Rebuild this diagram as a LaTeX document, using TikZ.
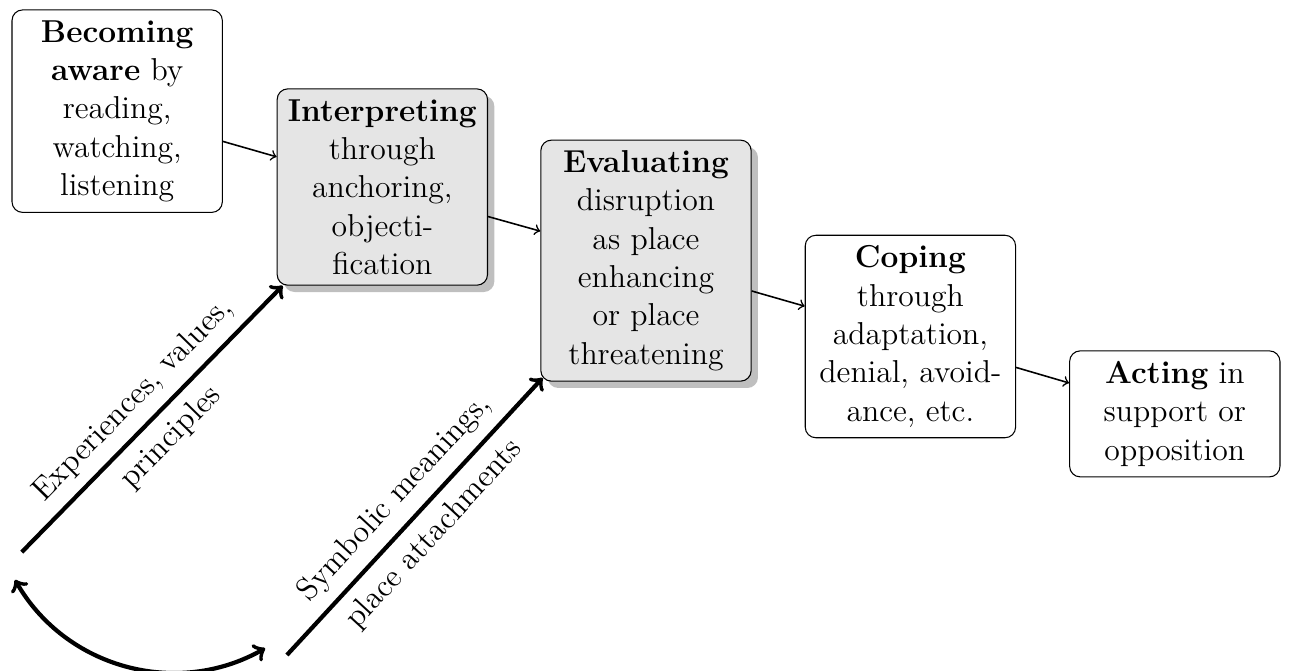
\documentclass[12pt,tikz,border=0pt]{standalone}
\usetikzlibrary{shadows}
\begin{document}
\begin{tikzpicture}[
	    stage/.style={draw,rounded corners,align=center,minimum width=2.8cm,fill=white},
	    keystage/.style={stage,fill=black!10,drop shadow},
	    influence/.style={->,ultra thick}]
	    \useasboundingbox (0,0) rectangle (17.16,-8.93);
	    \node[stage] (aware) at (1.56,-1.48) {\textbf{Becoming}\\\textbf{aware} by\\reading,\\watching,\\listening};
	    \node[keystage] (interp) at (5.09,-2.49) {\textbf{Interpreting}\\through\\anchoring,\\objecti-\\fication};
	    \node[keystage] (eval) at (8.60,-3.47) {\textbf{Evaluating}\\disruption\\as place\\enhancing\\or place\\threatening};
	    \node[stage] (cope) at (12.12,-4.48) {\textbf{Coping}\\through\\adaptation,\\denial, avoid-\\ance, etc.};
	    \node[stage] (act) at (15.64,-5.51) {\textbf{Acting} in\\support or\\opposition};
	    \draw[->,semithick](aware)--(interp);
	    \draw[->,semithick](interp)--(eval);
	    \draw[->,semithick](eval)--(cope);
	    \draw[->,semithick](cope)--(act);
	    \coordinate (exp) at (0.29,-7.35);
	    \coordinate (sym) at (3.82,-8.72);
	    \coordinate (loopa) at (0.20,-7.72);
	    \coordinate (loopb) at (3.53,-8.63);
	    \draw[influence](exp)--([xshift=0.08cm]interp.south west)
	        node[midway,sloped,above]{Experiences, values,}
	        node[midway,sloped,below]{principles};
	    \draw[influence](sym)--([shift={(0.03,0.05)}]eval.south west)
	        node[midway,sloped,above]{Symbolic meanings,}
	        node[midway,sloped,below]{place attachments};
	    \draw[<->,ultra thick](loopa) to[bend right=45] (loopb);
	\end{tikzpicture}
\end{document}
